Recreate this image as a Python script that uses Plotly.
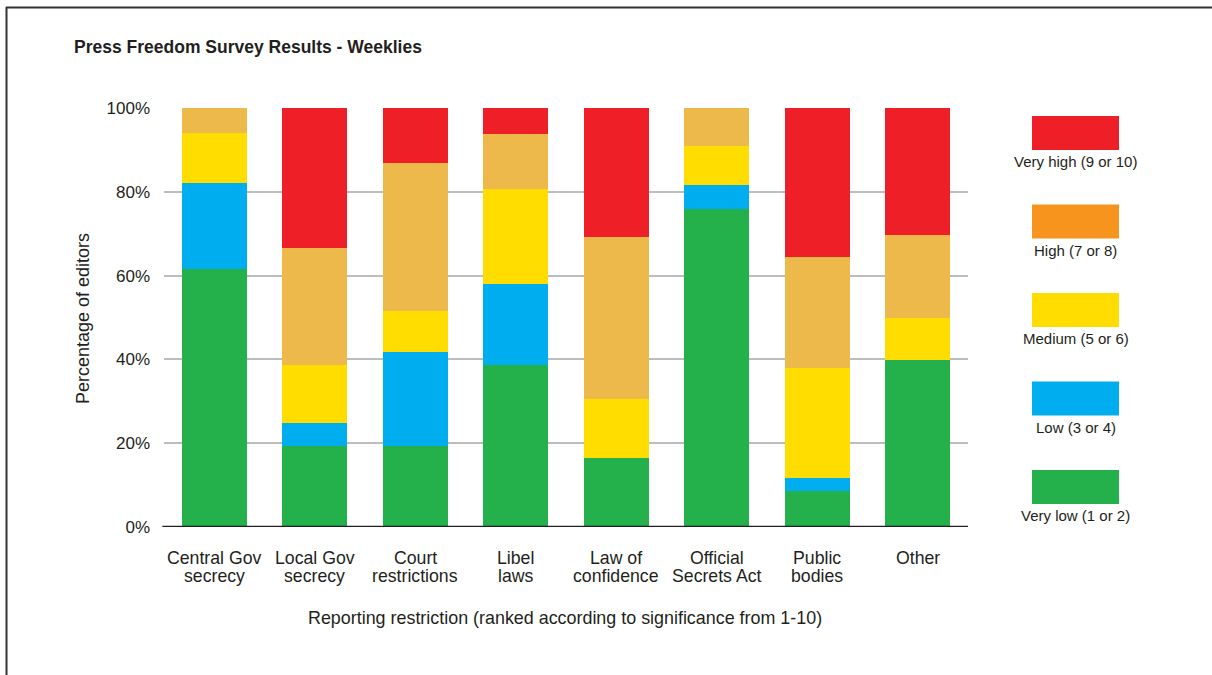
import plotly.graph_objects as go

categories = ["Central Gov<br>secrecy", "Local Gov<br>secrecy", "Court<br>restrictions", "Libel<br>laws",
              "Law of<br>confidence", "Official<br>Secrets Act", "Public<br>bodies", "Other"]
very_low = [61.6, 19.4, 19.4, 38.6, 16.4, 75.8, 8.5, 39.8]
low = [20.6, 5.4, 22.4, 19.5, 0.0, 5.9, 3.1, 0.0]
medium = [11.9, 13.8, 9.8, 22.5, 14.1, 9.3, 26.3, 10.1]
high = [5.9, 28.0, 35.3, 13.1, 38.7, 9.0, 26.6, 19.8]
very_high = [0.0, 33.4, 13.1, 6.3, 30.8, 0.0, 35.5, 30.3]

series_names = ["Very low (1 or 2)", "Low (3 or 4)", "Medium (5 or 6)", "High (7 or 8)", "Very high (9 or 10)"]
bar_colors = ["#24B14C", "#00AEEF", "#FFDD00", "#ECB94A", "#EE1F26"]
legend_colors = ["#24B14C", "#00AEEF", "#FFDD00", "#F7941D", "#EE1F26"]
tick_vals = [0, 20, 40, 60, 80, 100]
tick_text = ["0%", "20%", "40%", "60%", "80%", "100%"]

FONT = "Liberation Sans, Arial, Helvetica, sans-serif"
TXT = "#231F20"

fig = go.Figure()
for name, vals, col in zip(series_names, [very_low, low, medium, high, very_high], bar_colors):
    fig.add_trace(go.Bar(x=categories, y=vals, name=name, marker=dict(color=col, line=dict(width=0)),
                         showlegend=False))

W, H = 1212, 675
ml, mr, mt, mb = 164, 244, 108, 148
pw, ph = W - ml - mr, H - mt - mb

fig.update_layout(
    width=W, height=H,
    barmode="stack", bargap=0.35,
    plot_bgcolor="white", paper_bgcolor="white",
    margin=dict(l=ml, r=mr, t=mt, b=mb, autoexpand=False),
    font=dict(family=FONT, color=TXT, size=17),
    xaxis=dict(showgrid=False, showline=False, ticks="", showticklabels=False, fixedrange=True),
    yaxis=dict(range=[0, 100], tickvals=tick_vals, ticktext=tick_text, showgrid=True,
               gridcolor="#BDBDBD", gridwidth=1.5, zeroline=False, showline=False,
               ticks="", ticklabelstandoff=13, tickfont=dict(size=17, color=TXT), fixedrange=True),
)

def px_x(x):
    return (x - ml) / pw

def px_y(y):
    return (H - mb - y) / ph

shapes = []
# baseline
shapes.append(dict(type="line", xref="paper", yref="y", x0=-0.002, x1=1, y0=0, y1=0,
                   line=dict(color="#231F20", width=2.5)))
# outer frame (top and left)
shapes.append(dict(type="line", xref="paper", yref="paper", x0=px_x(6), x1=px_x(1212),
                   y0=px_y(7.5), y1=px_y(7.5), line=dict(color="#333333", width=2)))
shapes.append(dict(type="line", xref="paper", yref="paper", x0=px_x(6.5), x1=px_x(6.5),
                   y0=px_y(7), y1=px_y(675), line=dict(color="#333333", width=2)))

annotations = []
# category labels (two lines each, tight spacing)
for cat in categories:
    parts = cat.split("<br>")
    for j, part in enumerate(parts):
        annotations.append(dict(xref="x", yref="paper", x=cat, y=px_y(558 + 18 * j),
                                text=part, showarrow=False, xanchor="center", yanchor="middle",
                                font=dict(size=17.7, color=TXT, family=FONT)))

# custom legend: swatch above label, top to bottom
legend_order = list(range(len(series_names)))[::-1]
for i, idx in enumerate(legend_order):
    top = 116 + i * 88.5
    shapes.append(dict(type="rect", xref="paper", yref="paper", x0=px_x(1032), x1=px_x(1119),
                       y0=px_y(top + 34), y1=px_y(top), fillcolor=legend_colors[idx],
                       line=dict(width=0)))
    annotations.append(dict(xref="paper", yref="paper", x=px_x(1075.5), y=px_y(top + 45.5),
                            text=series_names[idx], showarrow=False, xanchor="center",
                            yanchor="middle", font=dict(size=15, color=TXT, family=FONT)))

annotations.append(dict(xref="paper", yref="paper", x=px_x(72), y=px_y(47),
                        text="<b>Press Freedom Survey Results - Weeklies</b>", showarrow=False,
                        xanchor="left", yanchor="middle", font=dict(size=17.5, color=TXT, family=FONT)))
annotations.append(dict(xref="paper", yref="paper", x=px_x(83), y=px_y(319),
                        text="Percentage of editors", showarrow=False, textangle=-90,
                        xanchor="center", yanchor="middle", font=dict(size=18, color=TXT, family=FONT)))
annotations.append(dict(xref="paper", yref="paper", x=px_x(565), y=px_y(618),
                        text="Reporting restriction (ranked according to significance from 1-10)",
                        showarrow=False, xanchor="center", yanchor="middle",
                        font=dict(size=17.9, color=TXT, family=FONT)))

fig.update_layout(shapes=shapes, annotations=annotations)
fig.write_html("out.html", config={"displayModeBar": False},
               post_script="document.body.style.margin='0';document.body.style.overflow='hidden';")
